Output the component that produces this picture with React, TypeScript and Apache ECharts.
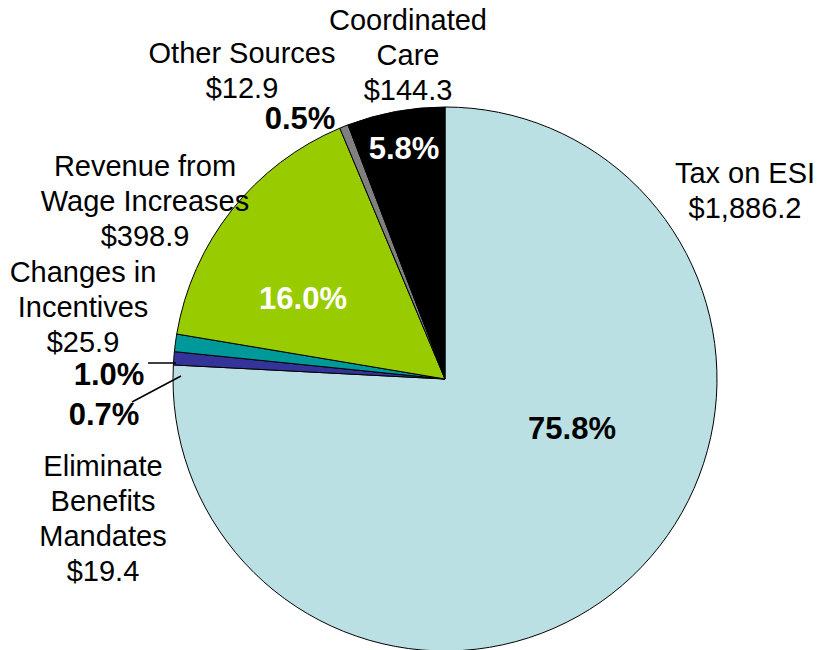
import React, { useEffect, useRef } from "react";
import * as echarts from "echarts";

const categories = [
  "Tax on ESI",
  "Eliminate Benefits Mandates",
  "Changes in Incentives",
  "Revenue from Wage Increases",
  "Other Sources",
  "Coordinated Care",
];
const values = [1886.2, 19.4, 25.9, 398.9, 12.9, 144.3];
const percentLabels = ["75.8%", "0.7%", "1.0%", "16.0%", "0.5%", "5.8%"];
const nameLabels = [
  "Tax on ESI",
  "Eliminate\nBenefits\nMandates",
  "Changes in\nIncentives",
  "Revenue from\nWage Increases",
  "Other Sources",
  "Coordinated\nCare",
];
const valueLabels = ["$1,886.2", "$19.4", "$25.9", "$398.9", "$12.9", "$144.3"];

const colors = ["#BBE0E3", "#333399", "#009999", "#99CC00", "#808080", "#000000"];
// label block centers (name + value)
const namePos = [
  [745, 190],
  [103, 518],
  [83, 307],
  [145, 201],
  [242, 70],
  [408, 55],
];
const pctPos = [
  [572, 428],
  [104, 414],
  [109, 374],
  [303, 298],
  [300, 118],
  [404, 148],
];
const pctColor = ["#000", "#000", "#000", "#fff", "#000", "#fff"];

const FONT = '"Liberation Sans", Arial, sans-serif';

export default function App() {
  const ref = useRef<HTMLDivElement>(null);
  useEffect(() => {
    if (!ref.current) return;
    const chart = echarts.init(ref.current, null, { renderer: "svg" });
    const graphics: any[] = [];
    categories.forEach((c, i) => {
      graphics.push({
        type: "text",
        x: namePos[i][0],
        y: namePos[i][1],
        style: {
          text: nameLabels[i] + "\n" + valueLabels[i],
          font: `29px ${FONT}`,
          lineHeight: 35,
          fill: "#000",
          textAlign: "center",
          textVerticalAlign: "middle",
        },
        z: 10,
      });
      graphics.push({
        type: "text",
        x: pctPos[i][0],
        y: pctPos[i][1],
        style: {
          text: percentLabels[i],
          font: `bold 31px ${FONT}`,
          fill: pctColor[i],
          textAlign: "center",
          textVerticalAlign: "middle",
        },
        z: 10,
      });
    });
    graphics.push({
      type: "line",
      shape: { x1: 148, y1: 363, x2: 176, y2: 363 },
      style: { stroke: "#000", lineWidth: 1.5 },
      z: 10,
    });
    graphics.push({
      type: "line",
      shape: { x1: 132, y1: 402, x2: 181, y2: 376 },
      style: { stroke: "#000", lineWidth: 1.5 },
      z: 10,
    });
    chart.setOption({
      animation: false,
      backgroundColor: "#fff",
      series: [
        {
          type: "pie",
          center: [445, 379],
          radius: 272,
          startAngle: 90,
          clockwise: true,
          label: { show: false },
          labelLine: { show: false },
          emphasis: { disabled: true },
          data: categories.map((c, i) => ({
            name: c,
            value: values[i],
            itemStyle: { color: colors[i], borderColor: "#000", borderWidth: 1 },
          })),
        },
      ],
      graphic: graphics,
    });
    return () => chart.dispose();
  }, []);
  return (
    <div
      ref={ref}
      style={{ position: "fixed", left: 0, top: 0, width: 819, height: 650 }}
    />
  );
}
